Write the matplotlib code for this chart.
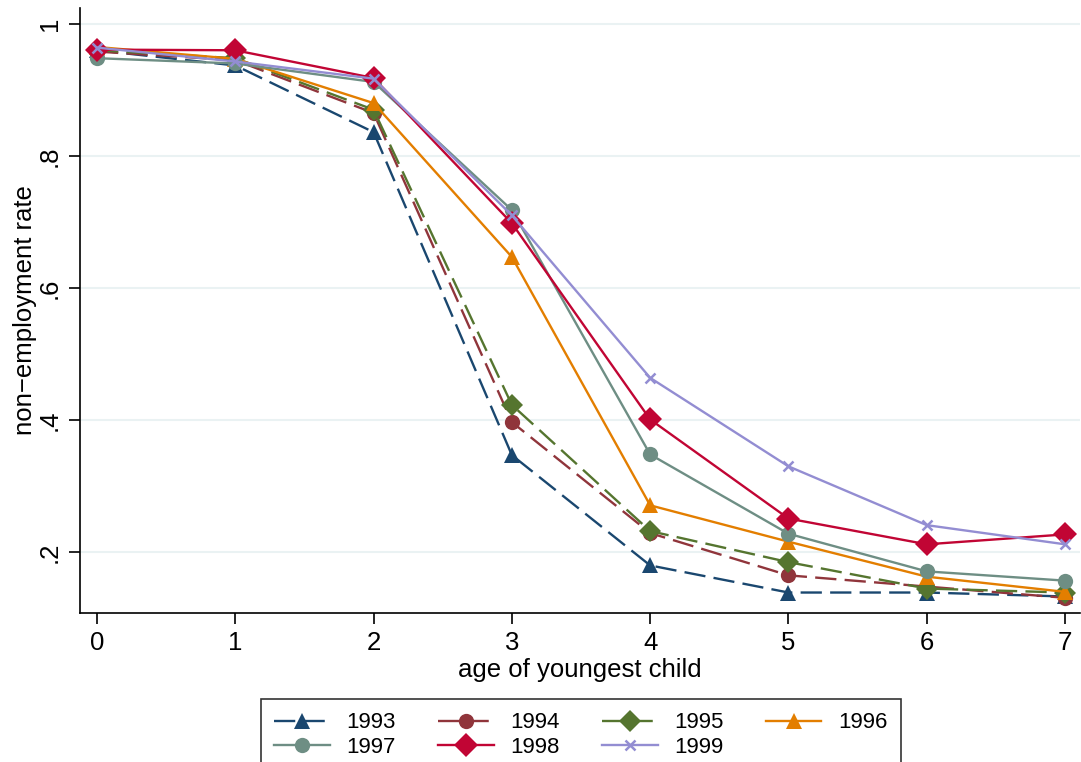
import matplotlib
matplotlib.use("Agg")
import matplotlib.pyplot as plt

plt.rcParams['font.family'] = ['Liberation Sans', 'DejaVu Sans']

ages = [0, 1, 2, 3, 4, 5, 6, 7]

years = ['1993', '1994', '1995', '1996', '1997', '1998', '1999']
rates = {
    '1993': [0.960, 0.937, 0.836, 0.347, 0.180, 0.139, 0.139, 0.133],
    '1994': [0.958, 0.945, 0.865, 0.397, 0.229, 0.165, 0.148, 0.131],
    '1995': [0.960, 0.948, 0.870, 0.423, 0.232, 0.185, 0.145, 0.139],
    '1996': [0.965, 0.947, 0.880, 0.647, 0.271, 0.216, 0.163, 0.140],
    '1997': [0.948, 0.940, 0.912, 0.718, 0.348, 0.228, 0.171, 0.157],
    '1998': [0.961, 0.960, 0.918, 0.698, 0.401, 0.251, 0.212, 0.227],
    '1999': [0.964, 0.943, 0.917, 0.710, 0.464, 0.330, 0.241, 0.212],
}
colors = ['#1a476f', '#90353b', '#55752f', '#e37e00', '#6e8e84', '#c10534', '#938dd2']
markers = ['^', 'o', 'D', '^', 'o', 'D', 'x']
msizes = [12, 11, 11, 12, 11, 12, 7]
dashed = [True, True, True, False, False, False, False]

fig = plt.figure(figsize=(10.81, 7.62), dpi=100)
ax = fig.add_axes([80/1081, 1 - 613/762, 1000/1081, 605/762])

handles = {}
for y, c, m, ms, d in zip(years, colors, markers, msizes, dashed):
    kw = dict(color=c, marker=m, markersize=ms, linewidth=1.7, label=y)
    if m == 'x':
        kw['markeredgewidth'] = 1.8
    else:
        kw['markeredgewidth'] = 0
    if d:
        kw['dashes'] = (9, 3.5)
    handles[y], = ax.plot(ages, rates[y], **kw)

ax.set_xlim(-0.123, 7.108)
ax.set_ylim(0.108, 1.024)
ax.set_xticks(ages)
ax.set_yticks([0.2, 0.4, 0.6, 0.8, 1.0])
ax.set_yticklabels(['.2', '.4', '.6', '.8', '1'], rotation=90, va='center')
ax.tick_params(labelsize=18.5, length=8, width=1.2, direction='out', pad=5)
ax.grid(axis='y', color='#eaf2f3', linewidth=1.5)
ax.set_axisbelow(True)
for s in ['top', 'right']:
    ax.spines[s].set_visible(False)
for s in ['left', 'bottom']:
    ax.spines[s].set_linewidth(1.2)

ax.set_xlabel('age of youngest child', fontsize=18.5, labelpad=2)
ax.set_ylabel('non\u2212employment rate', fontsize=18.5, labelpad=1)

# row-major order for a 4-column legend
order = ['1993', '1997', '1994', '1998', '1995', '1999', '1996']
leg = fig.legend([handles[k] for k in order], order,
                 loc='upper center', bbox_to_anchor=(581/1081, 1 - 699/762), ncol=4,
                 fontsize=16, frameon=True, fancybox=False, handlelength=2.5,
                 columnspacing=1.9, handletextpad=0.75, borderpad=0.6,
                 labelspacing=0.15, borderaxespad=0)
leg.get_frame().set_edgecolor('black')
leg.get_frame().set_linewidth(1.2)

fig.savefig('out.png', dpi=100)
